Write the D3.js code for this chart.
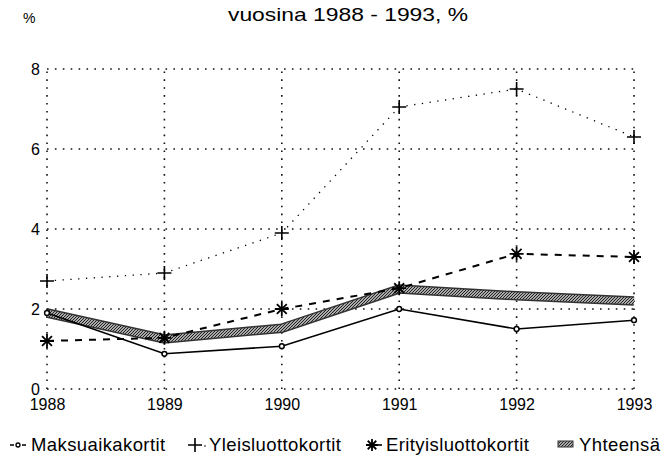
<!DOCTYPE html>
<meta charset="utf-8">
<style>
body { margin: 0; background: #fff; }
text { font-family: "Liberation Sans", Arial, Helvetica, sans-serif; fill: #000; }
.grid line { stroke: #111; stroke-width: 1.6; stroke-dasharray: 1.6,6.3; }
</style>
<svg width="672" height="462"></svg>
<script src="https://cdn.jsdelivr.net/npm/d3@7"></script>
<script>

var years = [1988, 1989, 1990, 1991, 1992, 1993];
var yTicks = [0, 2, 4, 6, 8];
var maksuaika = [1.9, 0.88, 1.07, 2.0, 1.5, 1.72];
var yleisluotto = [2.7, 2.9, 3.9, 7.05, 7.5, 6.3];
var erityisluotto = [1.2, 1.28, 2.0, 2.52, 3.38, 3.3];
var yhteensa = [1.9, 1.25, 1.52, 2.5, 2.33, 2.2];
var seriesNames = ["Maksuaikakortit", "Yleisluottokortit", "Erityisluottokortit", "Yhteensä"];

var svg = d3.select("svg");

// hatched fill for the total band
var defs = svg.append("defs");
var pat = defs.append("pattern")
    .attr("id", "hatch")
    .attr("patternUnits", "userSpaceOnUse")
    .attr("width", 3).attr("height", 3);
pat.append("rect").attr("width", 3).attr("height", 3).attr("fill", "#aaa");
pat.append("path").attr("d", "M0,3 L3,0").attr("stroke", "#222").attr("stroke-width", 1);

var x = d3.scaleLinear().domain([1988, 1993]).range([47, 634]);
var y = d3.scaleLinear().domain([0, 8]).range([389, 69]);

// grid
var grid = svg.append("g").attr("class", "grid");
grid.selectAll(".h").data(yTicks).enter().append("line")
    .attr("x1", x(1988)).attr("x2", x(1993))
    .attr("y1", function(d) { return y(d); })
    .attr("y2", function(d) { return y(d); });
grid.selectAll(".v").data(years).enter().append("line")
    .attr("x1", function(d) { return x(d); })
    .attr("x2", function(d) { return x(d); })
    .attr("y1", y(0)).attr("y2", y(8));

// axes labels
var yAxis = d3.axisLeft(y).tickValues(yTicks).tickSize(0).tickPadding(7);
svg.append("g").attr("transform", "translate(" + x(1988) + ",0)").call(yAxis)
  .call(function(g) {
    g.select(".domain").remove();
    g.selectAll("text").style("font-size", "16px").style("font-family", null);
  });

var xAxis = d3.axisBottom(x).tickValues(years).tickFormat(d3.format("d")).tickSize(0).tickPadding(10);
svg.append("g").attr("transform", "translate(0," + y(0) + ")").call(xAxis)
  .call(function(g) {
    g.select(".domain").remove();
    g.selectAll("text").style("font-size", "16px").style("font-family", null);
  });

// titles
svg.append("text").attr("x", 23).attr("y", 23).style("font-size", "14px").text("%");
svg.append("text").attr("x", 228).attr("y", 21)
    .attr("textLength", 240).attr("lengthAdjust", "spacingAndGlyphs")
    .style("font-size", "19px").text("vuosina 1988 - 1993, %");

var line = d3.line()
    .x(function(d, i) { return x(years[i]); })
    .y(function(d) { return y(d); });

// Yhteensä - thick hatched band
svg.append("path").datum(yhteensa).attr("d", line)
    .attr("fill", "none").attr("stroke", "#333").attr("stroke-width", 9.5);
svg.append("path").datum(yhteensa).attr("d", line)
    .attr("fill", "none").attr("stroke", "url(#hatch)").attr("stroke-width", 6.5);

// Maksuaikakortit
svg.append("path").datum(maksuaika).attr("d", line)
    .attr("fill", "none").attr("stroke", "#000").attr("stroke-width", 1.6);
svg.selectAll(".mk").data(maksuaika).enter().append("circle")
    .attr("cx", function(d, i) { return x(years[i]); })
    .attr("cy", function(d) { return y(d); })
    .attr("r", 2.4).attr("fill", "#fff").attr("stroke", "#000").attr("stroke-width", 1.5);

// Yleisluottokortit
svg.append("path").datum(yleisluotto).attr("d", line)
    .attr("fill", "none").attr("stroke", "#000").attr("stroke-width", 1.3)
    .attr("stroke-dasharray", "1.3,6.5");
function plus(g, cx, cy, s) {
  g.append("path").attr("d", "M" + (cx - s) + "," + cy + "H" + (cx + s) + "M" + cx + "," + (cy - s) + "V" + (cy + s))
    .attr("stroke", "#000").attr("stroke-width", 1.6);
}
var gp = svg.append("g");
yleisluotto.forEach(function(d, i) { plus(gp, x(years[i]), y(d), 7); });

// Erityisluottokortit
svg.append("path").datum(erityisluotto).attr("d", line)
    .attr("fill", "none").attr("stroke", "#000").attr("stroke-width", 2)
    .attr("stroke-dasharray", "7,7");
function star(g, cx, cy, s) {
  var d = "";
  for (var k = 0; k < 4; k++) {
    var a = k * Math.PI / 4;
    d += "M" + (cx - s * Math.cos(a)) + "," + (cy - s * Math.sin(a)) + "L" + (cx + s * Math.cos(a)) + "," + (cy + s * Math.sin(a));
  }
  g.append("path").attr("d", d).attr("stroke", "#000").attr("stroke-width", 1.8);
}
var gs = svg.append("g");
erityisluotto.forEach(function(d, i) { star(gs, x(years[i]), y(d), 7); });

// legend
var ly = 451;
var leg = svg.append("g");
var lx = [10, 188, 365, 558];
// 1: line with circle
leg.append("line").attr("x1", lx[0]).attr("x2", lx[0] + 16).attr("y1", ly - 6).attr("y2", ly - 6)
    .attr("stroke", "#000").attr("stroke-width", 1.4).attr("stroke-dasharray", "4,2,4,2,4");
leg.append("circle").attr("cx", lx[0] + 8).attr("cy", ly - 6).attr("r", 2).attr("fill", "#fff").attr("stroke", "#000").attr("stroke-width", 1.3);
// 2: plus
plus(leg, lx[1] + 7, ly - 6, 7);
leg.append("circle").attr("cx", lx[1] + 17).attr("cy", ly - 5).attr("r", 0.8).attr("fill", "#000");
// 3: star
star(leg, lx[2] + 7, ly - 6, 6);
leg.append("line").attr("x1", lx[2] + 11).attr("x2", lx[2] + 17).attr("y1", ly - 6).attr("y2", ly - 6)
    .attr("stroke", "#000").attr("stroke-width", 1.6);
// 4: band
leg.append("rect").attr("x", lx[3]).attr("y", ly - 10).attr("width", 15).attr("height", 6).attr("fill", "url(#hatch)").attr("stroke", "#333");

leg.selectAll("text").data(seriesNames).enter().append("text")
    .attr("x", function(d, i) { return lx[i] + 21; })
    .attr("y", ly)
    .style("font-size", "18.5px")
    .style("letter-spacing", "0.4px")
    .text(function(d) { return d; });

</script>
